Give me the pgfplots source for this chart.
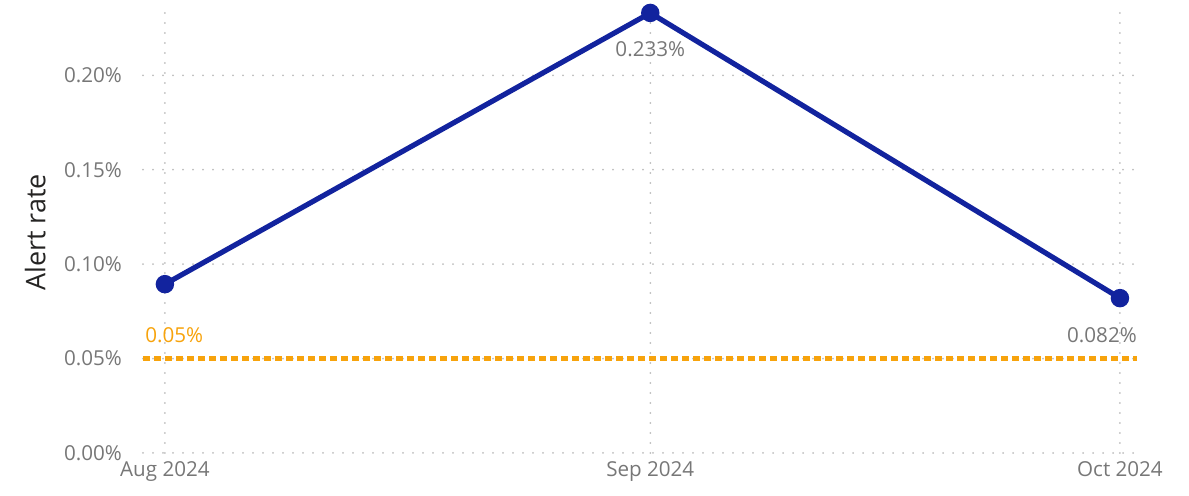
\documentclass[border=0pt]{standalone}
\usepackage{fontspec}
\setmainfont{Open Sans}
\usepackage{pgfplots}
\pgfplotsset{compat=1.18}

\definecolor{lineblue}{HTML}{12239E}
\definecolor{refornge}{HTML}{F7A30C}
\definecolor{ticktxt}{HTML}{777777}
\definecolor{labtxt}{HTML}{252423}
\definecolor{gridc}{HTML}{BDBDBD}

% x is days since 1 Aug 2024 (Power BI date axis)
\begin{document}
\begin{tikzpicture}
\useasboundingbox (0,0) rectangle (594.5pt,248pt);
\begin{axis}[
  at={(71.5pt,21.5pt)}, anchor=south west,
  scale only axis,
  width=498.5pt, height=220.5pt,
  xmin=-1.4, xmax=62.28,
  ymin=0, ymax=0.2335,
  axis line style={draw=none},
  major tick length=0pt,
  xtick={0,31,61},
  xticklabels={Aug 2024,Sep 2024,Oct 2024},
  ytick={0,0.05,0.10,0.15,0.20},
  yticklabels={0.00\%,0.05\%,0.10\%,0.15\%,0.20\%},
  tick label style={font=\fontsize{10.3pt}{12pt}\selectfont, text=ticktxt},
  yticklabel style={xshift=-7pt},
  xticklabel style={yshift=-1pt},
  grid=major,
  major grid style={draw=gridc, line width=1pt, line cap=round, dash pattern=on 0pt off 5pt},
  ylabel={Alert rate},
  ylabel style={at={(axis description cs:-0.108,0.5)}, anchor=center,
    font=\fontsize{13.5pt}{16pt}\selectfont, text=labtxt},
  clip=false,
]
% reference line at 0.05%
\addplot[refornge, line width=2.5pt, dash pattern=on 3.5pt off 2pt]
  coordinates {(-1.4,0.05) (62.09,0.05)};
\addplot[draw=none, mark=none, nodes near coords, point meta=explicit symbolic,
  nodes near coords style={anchor=west, inner sep=0pt, xshift=1pt, yshift=11.5pt,
    text=refornge, font=\fontsize{10.3pt}{12pt}\selectfont}]
  coordinates {(-1.4,0.05)[0.05\%]};
% alert rate
\addplot[lineblue, line width=2.6pt, mark=*, mark size=3.3pt,
  mark options={fill=lineblue, draw=lineblue}]
  coordinates {(0,0.0894) (31,0.233) (61,0.082)};
\addplot[draw=none, mark=none, nodes near coords, point meta=explicit symbolic,
  nodes near coords style={anchor=center, inner sep=0pt, yshift=-18pt,
    text=ticktxt, font=\fontsize{10.3pt}{12pt}\selectfont}]
  coordinates {(31,0.233)[0.233\%]};
\addplot[draw=none, mark=none, nodes near coords, point meta=explicit symbolic,
  nodes near coords style={anchor=center, inner sep=0pt, xshift=-9pt, yshift=-18.5pt,
    text=ticktxt, font=\fontsize{10.3pt}{12pt}\selectfont}]
  coordinates {(61,0.082)[0.082\%]};
\end{axis}
\end{tikzpicture}
\end{document}
